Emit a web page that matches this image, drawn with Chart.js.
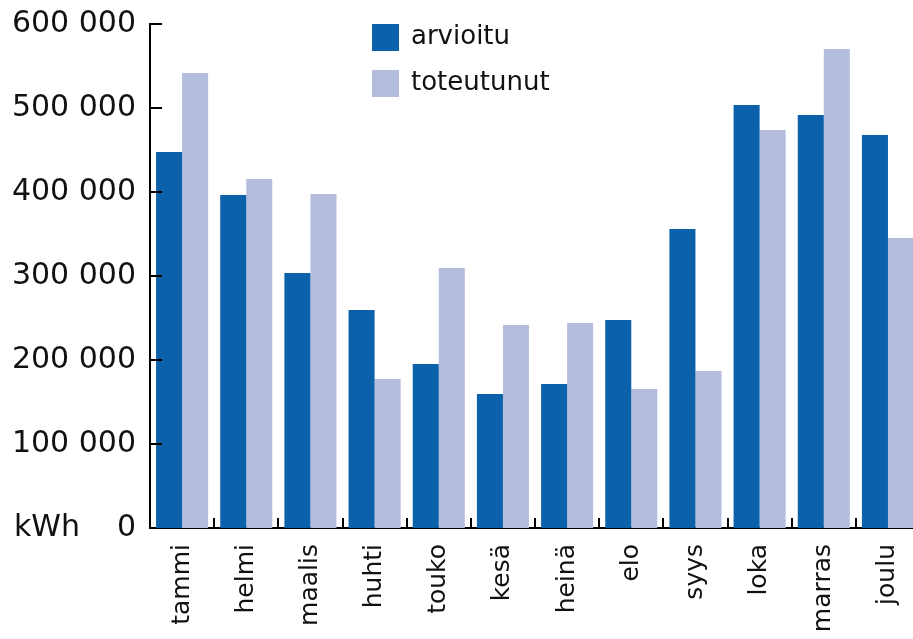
<!DOCTYPE html>
<html>
<head>
<meta charset="utf-8">
<script src="https://cdn.jsdelivr.net/npm/chart.js@4/dist/chart.umd.min.js"></script>
<style>
  html, body { margin: 0; padding: 0; background: #fff; overflow: hidden; }
  #wrap { width: 913px; height: 639px; overflow: hidden; }
</style>
</head>
<body>
<div id="wrap"><canvas id="myChart" width="934" height="639"></canvas></div>
<script>
var months = ['tammi', 'helmi', 'maalis', 'huhti', 'touko', 'kesä', 'heinä', 'elo', 'syys', 'loka', 'marras', 'joulu'];
var arvioitu = [447600, 396400, 303600, 259500, 195200, 159500, 171400, 247600, 356000, 503600, 491700, 467900];
var toteutunut = [541700, 415500, 397600, 177400, 309500, 241700, 244000, 165500, 186900, 473800, 570200, 345200];
var yTickLabels = ['0', '100 000', '200 000', '300 000', '400 000', '500 000', '600 000'];
var unitLabel = 'kWh';

var FONT = "'DejaVu Sans', sans-serif";

// inward tick marks, unit label and the stacked legend
var extras = {
	id: 'extras',
	afterDraw: function(chart) {
		var ctx = chart.ctx;
		var x = chart.scales.x, y = chart.scales.y;
		var area = chart.chartArea;
		ctx.save();
		ctx.strokeStyle = '#000';
		ctx.lineWidth = 2;
		ctx.beginPath();
		y.ticks.forEach(function(t) {
			if (t.value === 0) return;
			var py = Math.round(y.getPixelForValue(t.value));
			ctx.moveTo(area.left, py);
			ctx.lineTo(area.left + 12, py);
		});
		for (var i = 1; i < months.length; i++) {
			var px = Math.round((x.getPixelForValue(i - 1) + x.getPixelForValue(i)) / 2);
			ctx.moveTo(px, area.bottom);
			ctx.lineTo(px, area.bottom - 10);
		}
		ctx.stroke();

		ctx.fillStyle = '#111';
		ctx.font = '30px ' + FONT;
		ctx.textAlign = 'left';
		ctx.textBaseline = 'middle';
		ctx.fillText(unitLabel, 14, y.getPixelForValue(0));

		ctx.font = '26px ' + FONT;
		chart.data.datasets.forEach(function(ds, k) {
			var top = 24 + k * 46;
			ctx.fillStyle = ds.backgroundColor;
			ctx.fillRect(372, top, 27, 27);
			ctx.fillStyle = '#111';
			ctx.fillText(ds.label, 411, top + 13);
		});
		ctx.restore();
	}
};

var ctx = document.getElementById('myChart').getContext('2d');
var myBarChart = new Chart(ctx, {
	type: 'bar',
	data: {
		labels: months,
		datasets: [
			{
				label: 'arvioitu',
				backgroundColor: '#0c62aa',
				borderWidth: 0,
				data: arvioitu
			},
			{
				label: 'toteutunut',
				backgroundColor: '#b4bdde',
				borderWidth: 0,
				data: toteutunut
			}
		]
	},
	options: {
		responsive: false,
		animation: false,
		layout: {
			padding: { top: 24, right: 1, left: 0, bottom: 0 }
		},
		datasets: {
			bar: { categoryPercentage: 0.8115, barPercentage: 1.0 }
		},
		plugins: {
			legend: { display: false },
			tooltip: { enabled: false }
		},
		scales: {
			x: {
				grid: { display: false, drawTicks: false },
				border: { display: true, color: '#000', width: 2 },
				ticks: {
					color: '#111',
					font: { family: FONT, size: 25 },
					minRotation: 90,
					maxRotation: 90,
					padding: 16,
					autoSkip: false
				},
				afterFit: function(scale) { scale.height = 111; }
			},
			y: {
				min: 0,
				max: 600000,
				grid: { display: false, drawTicks: false },
				border: { display: true, color: '#000', width: 2 },
				ticks: {
					stepSize: 100000,
					color: '#111',
					padding: 14,
					font: { family: FONT, size: 30 },
					callback: function(value, index) { return yTickLabels[index]; }
				},
				afterFit: function(scale) {
					scale.width = 150;
					scale.paddingTop = 0;
					scale.paddingBottom = 0;
				}
			}
		}
	},
	plugins: [extras]
});
</script>
</body>
</html>
